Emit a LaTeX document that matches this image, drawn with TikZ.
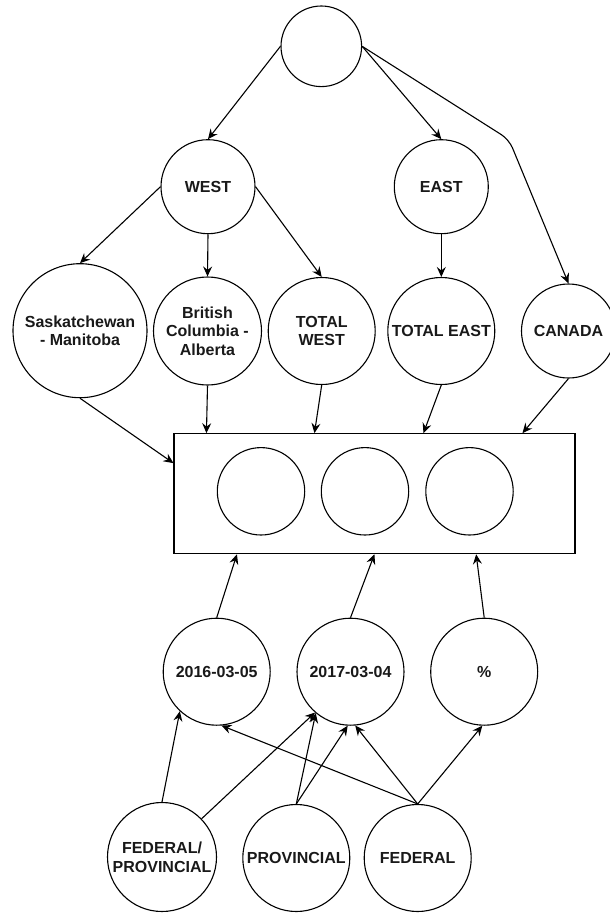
\documentclass[tikz,border=0pt]{standalone}
\usepackage{fontspec}
\setmainfont{Liberation Sans}
\usetikzlibrary{arrows.meta}
\begin{document}
\begin{tikzpicture}[x=1pt,y=-1pt,
  line width=1.1pt,
  lbl/.style={font=\fontsize{16}{18.7}\selectfont\bfseries, text=black!90, align=center},
  bubble/.style={draw, circle, inner sep=0pt, lbl},
  panel/.style={draw, rectangle, inner sep=0pt, minimum width=401pt, minimum height=120pt},
  link/.style={-{Stealth[length=10pt,width=9pt,inset=3.5pt]}}]
\useasboundingbox (0,0) rectangle (610,913);
\clip (0,0) rectangle (610,913);

% top level
\node[bubble, minimum size=80.6pt] (root) at (321.3,46.3) {};
\node[bubble, minimum size=94pt] (west) at (208,186.7) {WEST};
\node[bubble, minimum size=94pt] (east) at (441.3,186.7) {EAST};

% regions
\node[bubble, minimum size=134pt] (sask) at (80,330.7) {Saskatchewan\\- Manitoba};
\node[bubble, minimum size=108pt] (bc) at (207.5,331) {British\\Columbia -\\Alberta};
\node[bubble, minimum size=107pt] (tw) at (321.7,331) {TOTAL\\WEST};
\node[bubble, minimum size=107pt] (te) at (441.3,331) {TOTAL EAST};
\node[bubble, minimum size=94pt] (can) at (568.5,331) {CANADA};

% central panel with three slots
\node[panel] (box) at (374.5,493.7) {};
\node[bubble, minimum size=87.4pt] (s1) at (261,491.3) {};
\node[bubble, minimum size=87.4pt] (s2) at (365,491.3) {};
\node[bubble, minimum size=87.4pt] (s3) at (469.5,491.3) {};

% dates and change
\node[bubble, minimum size=107pt] (d16) at (216.7,671.7) {2016-03-05};
\node[bubble, minimum size=107pt] (d17) at (350.5,671.7) {2017-03-04};
\node[bubble, minimum size=107pt] (pct) at (484.2,671.7) {\%};

% jurisdictions
\node[bubble, minimum size=109pt] (fp) at (162,857) {FEDERAL/\\PROVINCIAL};
\node[bubble, minimum size=107pt] (prov) at (296.3,858) {PROVINCIAL};
\node[bubble, minimum size=107pt] (fed) at (417.7,858) {FEDERAL};

\coordinate (bend) at (509,139.5);

% hierarchy
\draw[link] (root.west) -- (west.north);
\draw[link] (root.east) -- (east.north);
\draw[link, rounded corners=9pt] (root.east) -- (bend) -- (can.north);
\draw[link] (west.west) -- (sask.north);
\draw[link] (west.south) -- (bc.north);
\draw[link] (west.east) -- (tw.north);
\draw[link] (east.south) -- (te.north);

% into the panel from above
\draw[link] (sask.south) -- ([yshift=-30pt]box.north west);
\draw[link] (bc.south) -- ([xshift=33pt]box.north west);
\draw[link] (tw.south) -- ([xshift=141pt]box.north west);
\draw[link] (te.south) -- ([xshift=250pt]box.north west);
\draw[link] (can.south) -- ([xshift=349pt]box.north west);

% into the panel from below
\draw[link] (d16.north) -- ([xshift=63.5pt]box.south west);
\draw[link] (d17.north) -- ([xshift=201pt]box.south west);
\draw[link] (pct.north) -- ([xshift=302.7pt]box.south west);

% jurisdictions to dates
\draw[link] (fp.north) -- (d16.227);
\draw[link] (fp.44.5) -- (d17.229);
\draw[link] (prov.north) -- (d17.230);
\draw[link] (prov.north) -- (d17.267);
\draw[link] (fed.north) -- (d16.275);
\draw[link] (fed.north) -- (d17.275);
\draw[link] (fed.north) -- (pct.268);
\end{tikzpicture}
\end{document}
